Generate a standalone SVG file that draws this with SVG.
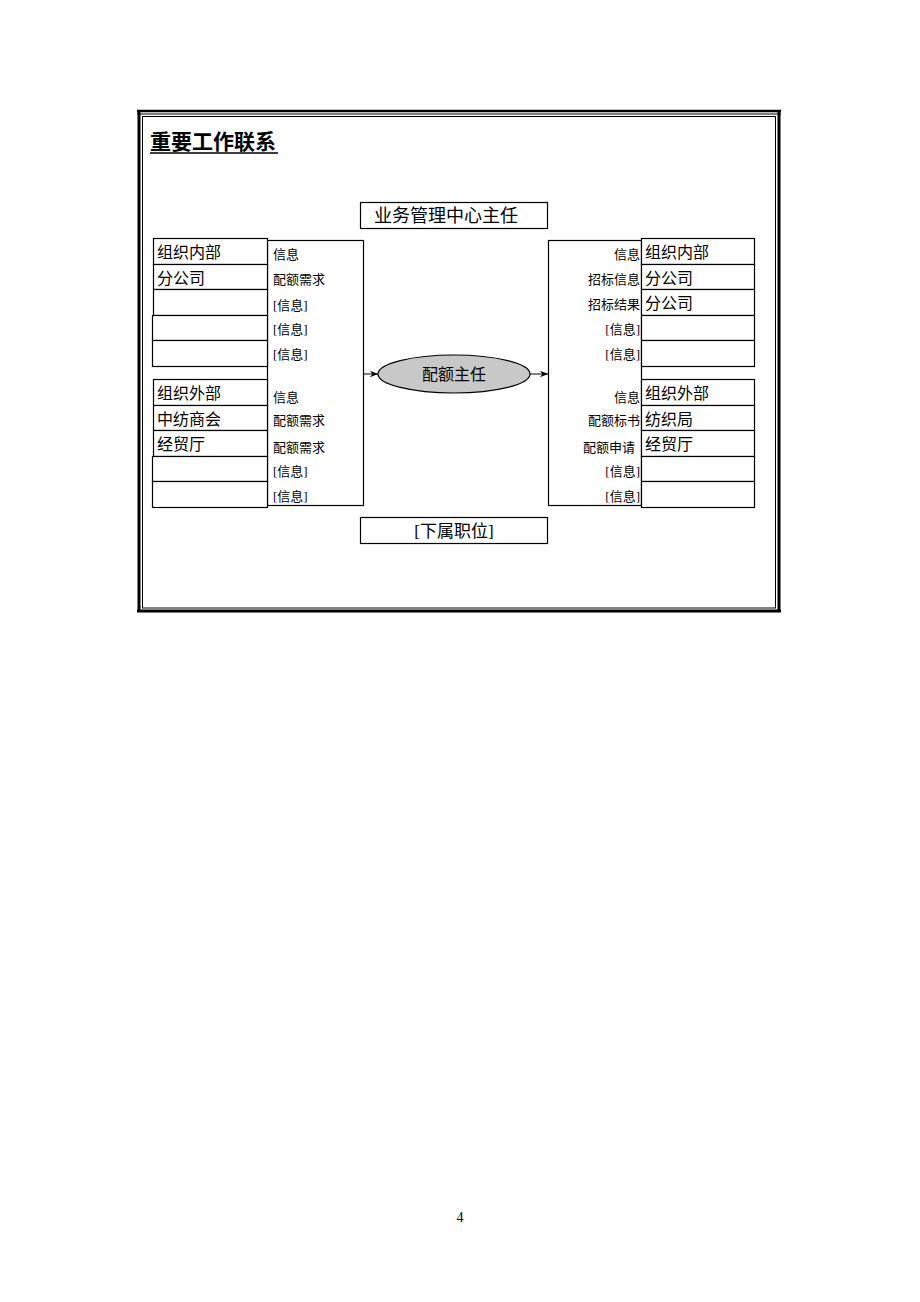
<svg xmlns="http://www.w3.org/2000/svg" width="920" height="1302" viewBox="0 0 920 1302">
<defs>
<style>
.b{fill:#fff;stroke:#000;stroke-width:1.2}
.t{font-family:"Liberation Serif","Noto Sans CJK SC",serif;fill:#000}
.n{font-size:16px}
.s{font-size:13px}
.c{stroke:#000;stroke-width:1;fill:none}
</style>
<marker id="ar" viewBox="0 0 10 10" refX="10" refY="5" markerWidth="8" markerHeight="8" orient="auto" markerUnits="userSpaceOnUse"><path d="M0,1 L10,5 L0,9 L3,5 Z" fill="#000"/></marker>
</defs>
<rect width="920" height="1302" fill="#fff"/>
<g id="frame">
<line x1="137" y1="111" x2="781" y2="111" stroke="#000" stroke-width="2.5"/>
<line x1="137" y1="114" x2="781" y2="114" stroke="#000" stroke-width="1"/>
<line x1="139" y1="111" x2="139" y2="612" stroke="#000" stroke-width="3"/>
<line x1="779" y1="111" x2="779" y2="612" stroke="#000" stroke-width="3"/>
<line x1="137" y1="611" x2="781" y2="611" stroke="#000" stroke-width="3"/>
<rect x="142.5" y="116.5" width="633" height="491.5" fill="none" stroke="#000" stroke-width="1"/>
</g>
<g id="title">
<text class="t" x="150" y="149" font-size="21" font-weight="bold" font-family="Noto Sans CJK SC, sans-serif">重要工作联系</text>
<line x1="150" y1="153" x2="278" y2="153" stroke="#000" stroke-width="1.5"/>
</g>
<g id="top">
<rect class="b" x="360.5" y="202.5" width="187" height="26"/>
<text class="t" x="446" y="222" font-size="18" text-anchor="middle">业务管理中心主任</text>
</g>
<g id="bottom">
<rect class="b" x="360.5" y="517.5" width="187" height="26"/>
<text class="t" x="454" y="537" font-size="17" text-anchor="middle">[下属职位]</text>
</g>
<g id="leftpanel">
<rect class="b" x="267.5" y="240.5" width="96" height="265"/>
<text class="t s" x="273" y="259">信息</text>
<text class="t s" x="273" y="284">配额需求</text>
<text class="t s" x="273" y="310">[信息]</text>
<text class="t s" x="273" y="334">[信息]</text>
<text class="t s" x="273" y="359">[信息]</text>
<text class="t s" x="273" y="402">信息</text>
<text class="t s" x="273" y="425">配额需求</text>
<text class="t s" x="273" y="452">配额需求</text>
<text class="t s" x="273" y="476">[信息]</text>
<text class="t s" x="273" y="501">[信息]</text>
</g>
<g id="leftinner">
<rect class="b" x="153.5" y="238.5" width="114" height="26"/>
<text class="t n" x="157" y="258">组织内部</text>
<rect class="b" x="153.5" y="264.5" width="114" height="25"/>
<text class="t n" x="157" y="284">分公司</text>
<rect class="b" x="153.5" y="289.5" width="114" height="26"/>
<rect class="b" x="152.5" y="315.5" width="115" height="25"/>
<rect class="b" x="152.5" y="340.5" width="115" height="26"/>
</g>
<g id="leftouter">
<rect class="b" x="153.5" y="379.5" width="114" height="26"/>
<text class="t n" x="157" y="399">组织外部</text>
<rect class="b" x="153.5" y="405.5" width="114" height="25"/>
<text class="t n" x="157" y="425">中纺商会</text>
<rect class="b" x="153.5" y="430.5" width="114" height="26"/>
<text class="t n" x="157" y="450">经贸厅</text>
<rect class="b" x="152.5" y="456.5" width="115" height="25"/>
<rect class="b" x="152.5" y="481.5" width="115" height="26"/>
</g>
<g id="rightpanel">
<rect class="b" x="548.5" y="240.5" width="93" height="265"/>
<text class="t s" x="640" y="259" text-anchor="end">信息</text>
<text class="t s" x="640" y="284" text-anchor="end">招标信息</text>
<text class="t s" x="640" y="309" text-anchor="end">招标结果</text>
<text class="t s" x="640" y="334" text-anchor="end">[信息]</text>
<text class="t s" x="640" y="359" text-anchor="end">[信息]</text>
<text class="t s" x="640" y="402" text-anchor="end">信息</text>
<text class="t s" x="640" y="425" text-anchor="end">配额标书</text>
<text class="t s" x="635" y="452" text-anchor="end">配额申请</text>
<text class="t s" x="640" y="476" text-anchor="end">[信息]</text>
<text class="t s" x="640" y="501" text-anchor="end">[信息]</text>
</g>
<g id="rightinner">
<rect class="b" x="641.5" y="238.5" width="113" height="26"/>
<text class="t n" x="645" y="258">组织内部</text>
<rect class="b" x="641.5" y="264.5" width="113" height="25"/>
<text class="t n" x="645" y="284">分公司</text>
<rect class="b" x="641.5" y="289.5" width="113" height="26"/>
<text class="t n" x="645" y="309">分公司</text>
<rect class="b" x="641.5" y="315.5" width="113" height="25"/>
<rect class="b" x="641.5" y="340.5" width="113" height="26"/>
</g>
<g id="rightouter">
<rect class="b" x="641.5" y="379.5" width="113" height="26"/>
<text class="t n" x="645" y="399">组织外部</text>
<rect class="b" x="641.5" y="405.5" width="113" height="25"/>
<text class="t n" x="645" y="425">纺织局</text>
<rect class="b" x="641.5" y="430.5" width="113" height="26"/>
<text class="t n" x="645" y="450">经贸厅</text>
<rect class="b" x="641.5" y="456.5" width="113" height="25"/>
<rect class="b" x="641.5" y="481.5" width="113" height="26"/>
</g>
<g id="connectors">
<line class="c" x1="363.5" y1="374" x2="378" y2="374" marker-end="url(#ar)"/>
<line class="c" x1="530" y1="374" x2="548" y2="374" marker-end="url(#ar)"/>
</g>
<g id="center">
<ellipse cx="454" cy="374" rx="76" ry="19" fill="#c8c8c8" stroke="#000" stroke-width="1.2"/>
<text class="t" x="454" y="380" font-size="16" text-anchor="middle">配额主任</text>
</g>
<g id="page">
<text class="t" x="460" y="1222" font-size="14" text-anchor="middle">4</text>
</g>
</svg>
